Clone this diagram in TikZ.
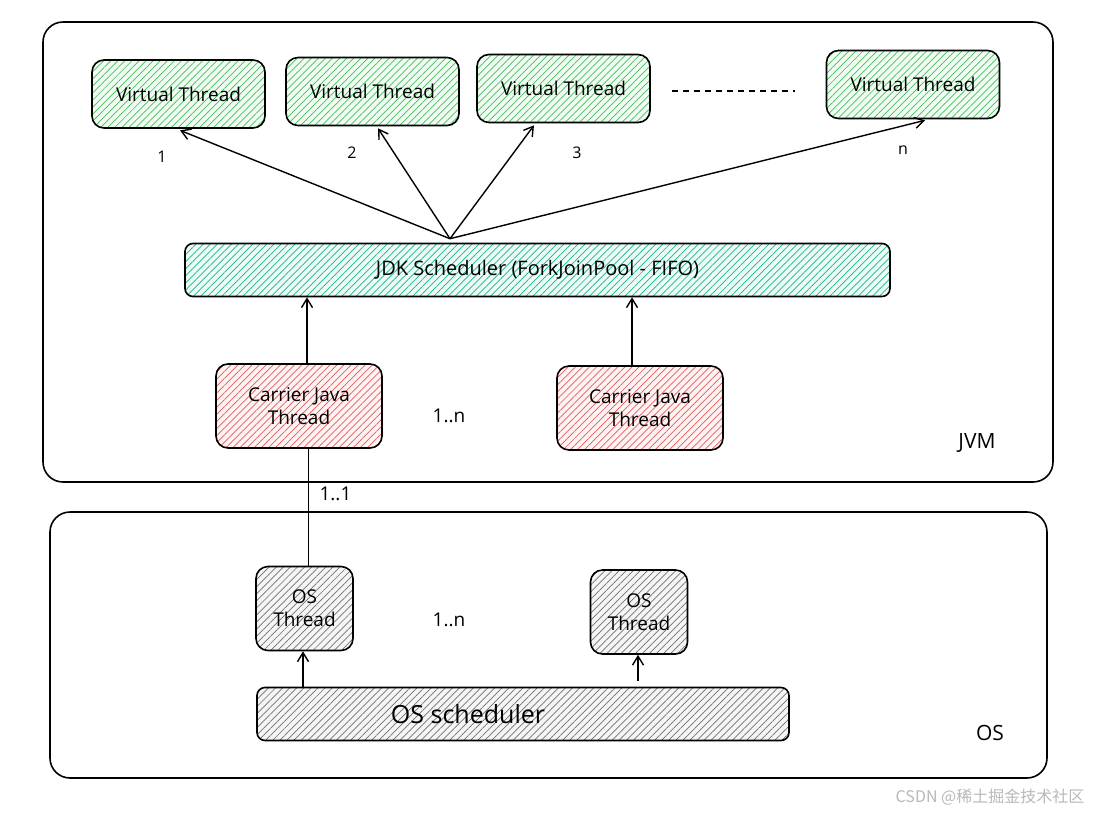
\documentclass[tikz,border=0pt]{standalone}
\usepackage{fontspec}
\setmainfont{Open Sans}
\newfontfamily\cjk{Noto Sans CJK SC}
\usetikzlibrary{arrows.meta,patterns.meta}
\definecolor{vtgreen}{HTML}{40C057}
\definecolor{schteal}{HTML}{12B886}
\definecolor{carred}{HTML}{E35A5A}
\definecolor{osgray}{HTML}{707070}
\tikzset{
  frame/.style={draw, line width=1.6pt, rounded corners=20pt},
  box/.style={draw, line width=1.6pt, rounded corners=12pt, inner sep=0pt, align=center},
  hatch/.style={pattern={Lines[angle=45,distance=5pt,line width=0.7pt]}, pattern color=#1, preaction={fill=#1!7}},
  vt/.style={box, hatch=vtgreen, minimum width=173pt, minimum height=68pt, font=\fontsize{19}{22}\selectfont},
  carrier/.style={box, hatch=carred, minimum width=166pt, minimum height=84pt, font=\fontsize{19}{23}\selectfont},
  osthr/.style={box, hatch=osgray, minimum width=97pt, minimum height=84pt, font=\fontsize{19}{23}\selectfont},
  sch/.style={box, rounded corners=8pt, minimum height=53pt},
  arr/.style={-{Straight Barb[length=9pt,width=11pt]}, line width=1.4pt},
  linkline/.style={draw=black, line width=1.6pt, line cap=butt},
  numlbl/.style={font=\fontsize{16}{18}\selectfont},
  mult/.style={font=\fontsize{19}{22}\selectfont},
  areal/.style={font=\fontsize{21}{24}\selectfont}
}
\begin{document}
\begin{tikzpicture}[x=1pt,y=-1pt]
\useasboundingbox (0,0) rectangle (1100,815);
\fill[white] (0,0) rectangle (1100,815);

% containers
\node[frame, minimum width=1010pt, minimum height=460pt] (jvm) at (548,252) {};
\node[frame, minimum width=997pt, minimum height=266pt] (os) at (548.5,645) {};

% virtual threads
\node[vt] (vt1) at (178.5,94) {Virtual Thread};
\node[vt] (vt2) at (372.5,91.5) {Virtual Thread};
\node[vt] (vt3) at (563.5,88.5) {Virtual Thread};
\node[vt] (vtn) at (913,84.5) {Virtual Thread};
\coordinate (dotsA) at (672,91);
\coordinate (dotsB) at (795,91);
\draw[line width=1.2pt, dash pattern=on 6pt off 5pt] (dotsA) -- (dotsB);

\node[numlbl] (n1) at (162,157) {1};
\node[numlbl] (n2) at (352,153) {2};
\node[numlbl] (n3) at (577,153) {3};
\node[numlbl] (nn) at (903,150) {n};

% JDK scheduler
\node[sch, hatch=schteal, minimum width=705pt, font=\fontsize{20}{23}\selectfont] (sched) at (537.5,270) {JDK Scheduler (ForkJoinPool - FIFO)};
\coordinate (hub) at ([xshift=-87.5pt,yshift=4pt]sched.north);
\draw[arr] (hub) -- ([xshift=1.5pt,yshift=-2pt]vt1.south);
\draw[arr] (hub) -- ([xshift=5.5pt,yshift=-2pt]vt2.south);
\draw[arr] (hub) -- ([xshift=-29.5pt,yshift=-2pt]vt3.south);
\draw[arr] (hub) -- ([xshift=12pt,yshift=-1pt]vtn.south);

% carrier threads
\node[carrier] (c1) at (299,406) {Carrier Java\\Thread};
\node[carrier] (c2) at (640,408) {Carrier Java\\Thread};
\draw[arr] ([xshift=8pt]c1.north) -- ([xshift=8pt]c1.north |- sched.south);
\draw[arr] ([xshift=-8pt]c2.north) -- ([xshift=-8pt]c2.north |- sched.south);
\node[mult] (m1) at (449,416) {1..n};
\node[areal] (jvmlbl) at (977,443) {JVM};

% carrier to OS thread
\node[osthr] (os1) at (304.5,608.5) {OS\\Thread};
\node[osthr] (os2) at (639,612) {OS\\Thread};
\path[linkline] ([xshift=4pt]c1.south -| os1.north) -- ([xshift=4pt]os1.north);
\node[mult, anchor=west] (m11) at (316,494) {1..1};
\node[mult] (m2) at (449,620) {1..n};

% OS scheduler
\node[sch, hatch=osgray, minimum width=532pt] (ossched) at (523,714) {};
\node[font=\fontsize{25}{29}\selectfont] (osschedlbl) at (468,714) {OS scheduler};
\draw[arr] ([xshift=-1.5pt]os1.south |- ossched.north) -- ([xshift=-1.5pt]os1.south);
\draw[arr] ([xshift=-1pt]os2.south |- ossched.north) ++(0,-6) -- ([xshift=-1pt]os2.south);
\node[areal] (oslbl) at (990,733) {OS};

% watermark
\node[text=gray!55, font=\cjk\fontsize{16}{19}\selectfont] (wm) at (990,797) {CSDN @稀土掘金技术社区};
\end{tikzpicture}
\end{document}
